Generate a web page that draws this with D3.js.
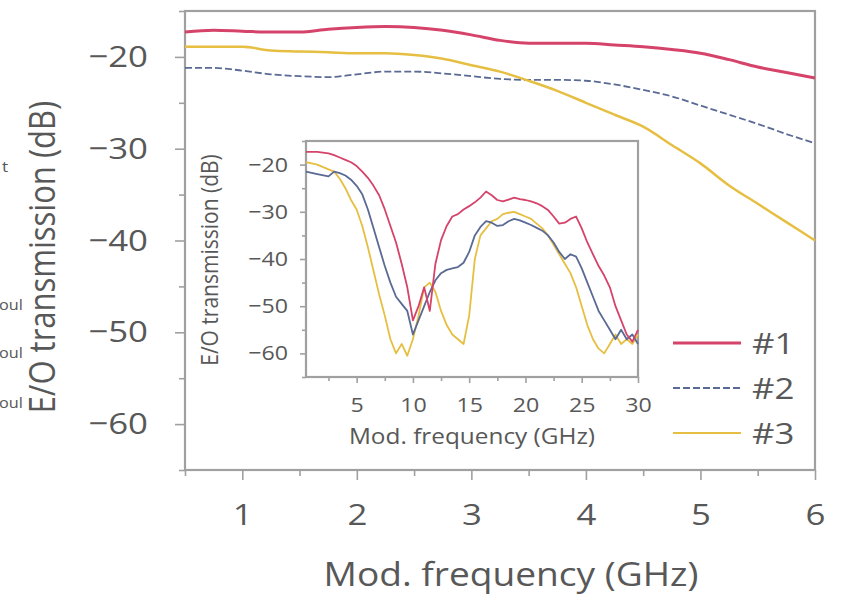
<!DOCTYPE html>
<meta charset="utf-8">
<style>
body { margin: 0; background: #fff; }
text { font-family: "Open Sans", "DejaVu Sans", sans-serif; fill: #585858; }
.frame { fill: #fff; stroke: #a0a0a0; stroke-width: 2.2px; }
.tick line { stroke: #a0a0a0; stroke-width: 1.6px; }
.line { fill: none; }
</style>
<body>
<script src="https://cdn.jsdelivr.net/npm/d3@7"></script>
<script>

// main plot data (GHz, dB)
var mainFreq = [0.5,0.75,1,1.25,1.5,1.75,2,2.25,2.5,2.75,3,3.25,3.5,3.75,4,4.25,4.5,4.75,5,5.25,5.5,5.75,6];
var main1 = [-17.3,-17.1,-17.2,-17.3,-17.3,-17.0,-16.8,-16.7,-16.8,-17.1,-17.6,-18.2,-18.5,-18.5,-18.5,-18.7,-18.9,-19.2,-19.6,-20.3,-21.1,-21.7,-22.3];
var main2 = [-21.2,-21.2,-21.5,-21.9,-22.1,-22.2,-21.9,-21.6,-21.6,-21.8,-22.1,-22.4,-22.5,-22.5,-22.6,-23.0,-23.6,-24.3,-25.3,-26.3,-27.3,-28.4,-29.4];
var main3 = [-18.9,-18.9,-18.9,-19.3,-19.4,-19.5,-19.6,-19.6,-19.8,-20.2,-20.9,-21.6,-22.6,-23.7,-25.0,-26.3,-27.6,-29.6,-31.6,-34.0,-36.0,-38.0,-40.0];

// inset data (GHz, dB)
var insetFreq = [0.5,1.5,2.5,3,3.5,4,4.5,5,5.5,6,6.5,7,7.5,8,8.5,9,9.5,10,10.5,11,11.5,12,12.5,13,13.5,14,14.5,15,15.5,16,16.5,17,17.5,18,18.5,19,19.5,20,20.5,21,21.5,22,22.5,23,23.5,24,24.5,25,25.5,26,26.5,27,27.5,28,28.5,29,29.5,30];
var inset1 = [-17.3,-17.3,-17.6,-18.0,-18.5,-19.0,-19.5,-20.3,-21.5,-22.8,-24.5,-26.5,-29.5,-33,-36.5,-41,-46,-53,-50,-46,-51,-41,-36,-33,-31,-30.5,-29.5,-28.8,-28,-27,-25.7,-26.5,-27.5,-27.8,-27.4,-27,-27.3,-27.5,-27.8,-28.2,-28.8,-29.6,-31,-32.5,-32.3,-31.5,-31,-33.5,-36.5,-39,-41.5,-43.5,-46,-50,-53,-56,-57.5,-55];
var inset2 = [-21.5,-22.0,-22.5,-21.5,-21.8,-22.3,-23.2,-24.5,-26.3,-29.5,-33.5,-37.5,-41.5,-45,-48,-49.5,-51,-56,-53,-50,-47,-44.5,-43,-42.3,-42,-41.7,-40.8,-38.5,-35,-33.2,-32,-32.3,-33,-32.8,-32,-31.5,-31.8,-32.3,-32.8,-33.4,-34,-35,-36.5,-38.5,-40,-39,-39.5,-42,-45,-48,-51,-53,-55,-57,-55,-57,-56,-58];
var inset3 = [-19.5,-20,-21,-21.5,-23,-25,-27.5,-29.5,-33,-37.5,-42.5,-47.5,-52,-57,-60,-58,-60.5,-57,-52,-46,-45,-47,-51,-54,-56,-57,-58,-52,-40,-35,-33.5,-32,-31.5,-30.5,-30.2,-30,-30.5,-31,-31.5,-32.5,-33.5,-35,-37,-39,-41,-43,-46,-50,-54,-57,-59,-60,-58,-56,-58,-57,-58,-56];

var seriesNames = ["#1", "#2", "#3"];
var seriesColors = ["#d6436a", "#5a6a94", "#e6bf42"];
var seriesDash = [null, "7,3", null];

// the lettering in the figure is a bit wider than Open Sans
var S = 1.16;

var svg = d3.select("body").append("svg")
    .attr("width", 841)
    .attr("height", 598);

// plain text, stretched sideways; rot = true for vertical titles
function label(x, y, str, size, anchor, rot) {
  var g = svg.append("g").attr("transform", "translate(" + x + "," + y + ")" + (rot ? " rotate(-90)" : ""));
  return g.append("text")
      .attr("transform", rot ? "scale(1," + S + ")" : "scale(" + S + ",1)")
      .attr("text-anchor", anchor)
      .attr("font-size", size)
      .text(str);
}

// clipped text fragments from the neighbouring panel
label(2, 172, "t", 15, "start");
[305, 353, 403].forEach(function(yy) {
  label(-1, yy + 5, "oul", 14, "start");
});

// ---------- main plot ----------
var x = d3.scaleLinear().domain([0.5, 6]).range([185, 815]);
var y = d3.scaleLinear().domain([-65, -15]).range([470, 11]);

svg.append("rect").attr("class", "frame")
    .attr("x", 185).attr("y", 11).attr("width", 630).attr("height", 459);

function addAxes(g, xs, ys, xMajor, xMinor, yMajor, yMinor, sz, fs, xPad, yPad) {
  var xa = g.append("g").attr("transform", "translate(0," + ys.range()[0] + ")");
  xa.call(d3.axisBottom(xs).tickValues(xMinor).tickSize(sz[1]).tickFormat(""));
  xa.select(".domain").remove();
  var xb = g.append("g").attr("transform", "translate(0," + ys.range()[0] + ")");
  xb.call(d3.axisBottom(xs).tickValues(xMajor).tickSize(sz[0]).tickPadding(xPad).tickFormat(d3.format("d")));
  xb.select(".domain").remove();
  xb.selectAll("text").attr("font-size", fs).attr("font-family", null).style("fill", "#585858")
      .attr("transform", "scale(" + S + ",1)");

  var ya = g.append("g").attr("transform", "translate(" + xs.range()[0] + ",0)");
  ya.call(d3.axisLeft(ys).tickValues(yMinor).tickSize(sz[1]).tickFormat(""));
  ya.select(".domain").remove();
  var yb = g.append("g").attr("transform", "translate(" + xs.range()[0] + ",0)");
  yb.call(d3.axisLeft(ys).tickValues(yMajor).tickSize(sz[0]).tickPadding(yPad).tickFormat(d3.format("d")));
  yb.select(".domain").remove();
  yb.selectAll("text").attr("font-size", fs).attr("font-family", null).style("fill", "#585858")
      .attr("x", function() { return +this.getAttribute("x") / S; })
      .attr("transform", "scale(" + S + ",1)");
}

var mainG = svg.append("g");
addAxes(mainG, x, y, [1,2,3,4,5,6], [0.5,1.5,2.5,3.5,4.5,5.5],
        [-60,-50,-40,-30,-20], [-65,-55,-45,-35,-25,-15], [10, 6], 30, 24, 27);

var mainLine = d3.line()
    .x(function(d) { return x(d[0]); })
    .y(function(d) { return y(d[1]); })
    .curve(d3.curveMonotoneX);

[main1, main2, main3].forEach(function(vals, i) {
  svg.append("path")
      .datum(mainFreq.map(function(f, j) { return [f, vals[j]]; }))
      .attr("class", "line")
      .attr("stroke", seriesColors[i])
      .attr("stroke-width", i == 0 ? 3 : (i == 2 ? 2.5 : 1.8))
      .attr("stroke-dasharray", seriesDash[i])
      .attr("d", mainLine);
});

// axis titles
label(55, 257, "E/O transmission (dB)", 31, "middle", true);
label(511, 586, "Mod. frequency (GHz)", 32, "middle");

// legend
seriesNames.forEach(function(n, i) {
  var ly = 343 + i * 45;
  svg.append("line")
      .attr("x1", 673).attr("x2", 741).attr("y1", ly).attr("y2", ly)
      .attr("stroke", seriesColors[i])
      .attr("stroke-width", i == 0 ? 3 : 2.2)
      .attr("stroke-dasharray", seriesDash[i]);
  label(752, ly + 11, n, 30, "start");
});

// ---------- inset ----------
var xi = d3.scaleLinear().domain([0.5, 30]).range([306, 638]);
var yi = d3.scaleLinear().domain([-65, -15]).range([377, 141]);

svg.append("rect").attr("class", "frame")
    .attr("x", 306).attr("y", 141).attr("width", 332).attr("height", 236);

var insetG = svg.append("g");
addAxes(insetG, xi, yi, [5,10,15,20,25,30], [2.5,7.5,12.5,17.5,22.5,27.5],
        [-60,-50,-40,-30,-20], [-65,-55,-45,-35,-25,-15], [6, 4], 20, 15, 12);

var insetLine = d3.line()
    .x(function(d) { return xi(d[0]); })
    .y(function(d) { return yi(d[1]); });

[inset3, inset2, inset1].forEach(function(vals, k) {
  var i = 2 - k;
  svg.append("path")
      .datum(insetFreq.map(function(f, j) { return [f, vals[j]]; }))
      .attr("class", "line")
      .attr("stroke", seriesColors[i])
      .attr("stroke-width", 1.8)
      .attr("stroke-linejoin", "round")
      .attr("d", insetLine);
});

label(218, 260, "E/O transmission (dB)", 21, "middle", true);
label(472, 444, "Mod. frequency (GHz)", 21, "middle");

</script>
</body>
